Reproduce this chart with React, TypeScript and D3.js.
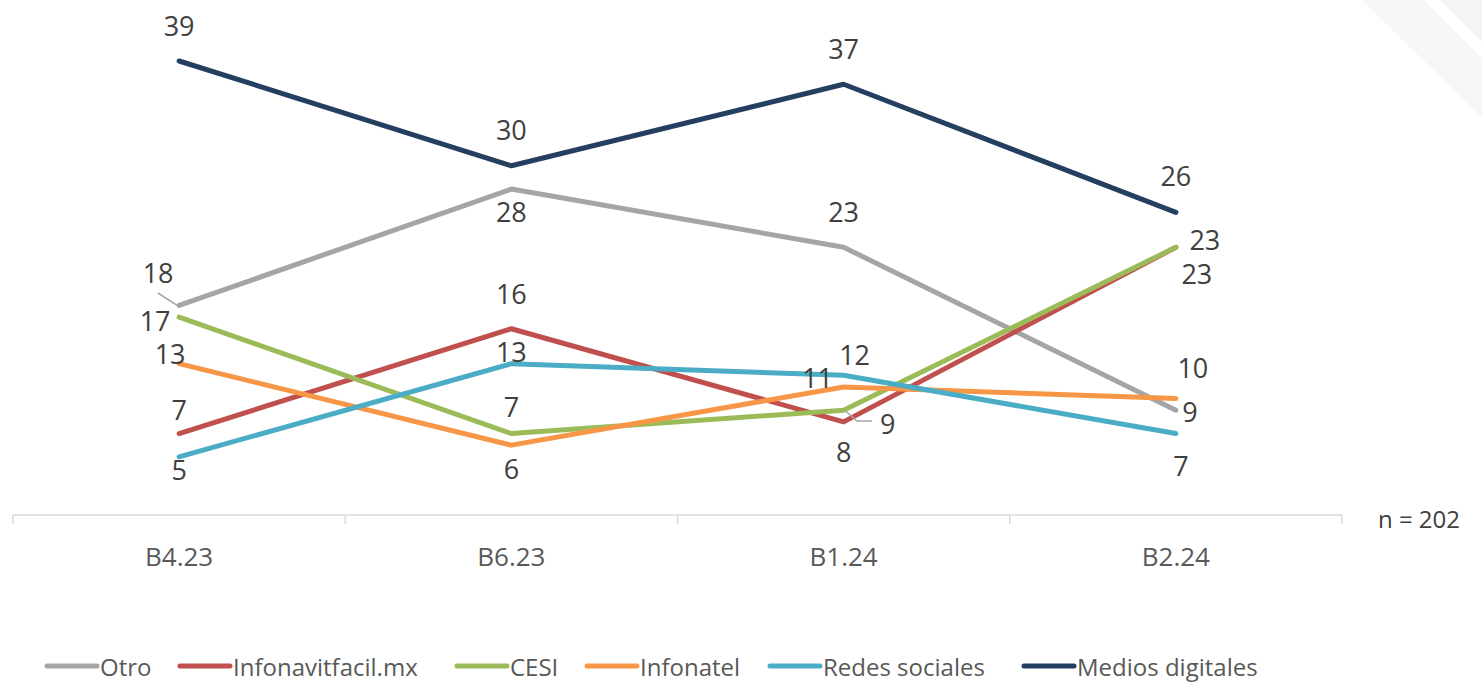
import React from "react";
import * as d3 from "d3";

const categories = ["B4.23", "B6.23", "B1.24", "B2.24"];
const seriesNames = ["Otro", "Infonavitfacil.mx", "CESI", "Infonatel", "Redes sociales", "Medios digitales"];
const otro = [18, 28, 23, 9];
const infonavit = [7, 16, 8, 23];
const cesi = [17, 7, 9, 23];
const infonatel = [13, 6, 11, 10];
const redes = [5, 13, 12, 7];
const medios = [39, 30, 37, 26];

const colors = ["#A5A5A5", "#C0504D", "#9BBB59", "#F79646", "#4BACC6", "#243F60"];

// label offsets [dx, dy] per series, per category (Excel had moved a few by hand)
const labelOffsets = [
  [[-21, -33], [0, 22], [0, -36], [14, 1]],
  [[0, -24], [0, -35], [0, 30], [21, 26]],
  [[-24, 3], [0, -27], [44, 13], [29, -8]],
  [[-9, -10], [0, 23], [-26, -9], [17, -31]],
  [[0, 13], [0, -12], [11, -21], [5, 32]],
  [[0, -36], [0, -36], [0, -36], [0, -37]],
];

const W = 1482;
const H = 683;
const font = "'Open Sans', 'Noto Sans', sans-serif";
const textColor = "#404040";

export default function App() {
  const allSeries = [otro, infonavit, cesi, infonatel, redes, medios];

  const x = d3.scaleBand<string>().domain(categories).range([13, 1342]).padding(0);
  const cx = (c: string) => (x(c) as number) + x.bandwidth() / 2;
  const y = d3.scaleLinear().domain([0, 39]).range([515, 61]);

  const line = d3
    .line<number>()
    .x((_, i) => cx(categories[i]))
    .y((d) => y(d));

  const tickXs = [...categories.map((c) => x(c) as number), 1342];

  // legend layout
  const legendX = [45, 178, 455, 585, 768, 1022];

  return (
    <svg
      width={W}
      height={H}
      style={{ position: "absolute", left: 0, top: 0, background: "#fff" }}
      fontFamily={font}
    >
      {/* faint decorative corner */}
      <polygon points="1362,0 1424,0 1482,58 1482,118" fill="#f6f6f6" />
      <polygon points="1440,0 1482,0 1482,42" fill="#f4f4f4" />

      {/* axis */}
      <line x1={13} x2={1342} y1={515} y2={515} stroke="#D9D9D9" strokeWidth={1.5} />
      {tickXs.map((t, i) => (
        <line key={i} x1={t} x2={t} y1={515} y2={524} stroke="#D9D9D9" strokeWidth={1.5} />
      ))}
      {categories.map((c) => (
        <text
          key={c}
          x={cx(c)}
          y={556}
          textAnchor="middle"
          dominantBaseline="central"
          fontSize={26}
          fill="#595959"
        >
          {c}
        </text>
      ))}
      <text x={1419} y={518} textAnchor="middle" dominantBaseline="central" fontSize={24} fill={textColor}>
        n = 202
      </text>

      {/* lines */}
      {allSeries.map((s, i) => (
        <path
          key={seriesNames[i]}
          d={line(s) || ""}
          fill="none"
          stroke={colors[i]}
          strokeWidth={5}
          strokeLinejoin="round"
          strokeLinecap="round"
        />
      ))}

      {/* leader lines */}
      <polyline
        points={`158,293 ${cx(categories[0]) - 2},${y(otro[0])}`}
        fill="none"
        stroke="#A5A5A5"
        strokeWidth={1.5}
      />
      <polyline
        points={`${cx(categories[2]) + 1},${y(cesi[2])} 857,421 872,421`}
        fill="none"
        stroke="#A5A5A5"
        strokeWidth={1.5}
      />

      {/* data labels */}
      {allSeries.map((s, i) =>
        s.map((v, j) => (
          <text
            key={`${i}-${j}`}
            x={cx(categories[j]) + labelOffsets[i][j][0]}
            y={y(v) + labelOffsets[i][j][1]}
            textAnchor="middle"
            dominantBaseline="central"
            fontSize={27}
            fill={textColor}
          >
            {v}
          </text>
        ))
      )}

      {/* legend */}
      {seriesNames.map((n, i) => (
        <g key={n} transform={`translate(${legendX[i]},666)`}>
          <line x1={2} x2={52} y1={0} y2={0} stroke={colors[i]} strokeWidth={5} strokeLinecap="round" />
          <text x={55} y={0} dominantBaseline="central" fontSize={24} fill="#595959">
            {n}
          </text>
        </g>
      ))}
    </svg>
  );
}
